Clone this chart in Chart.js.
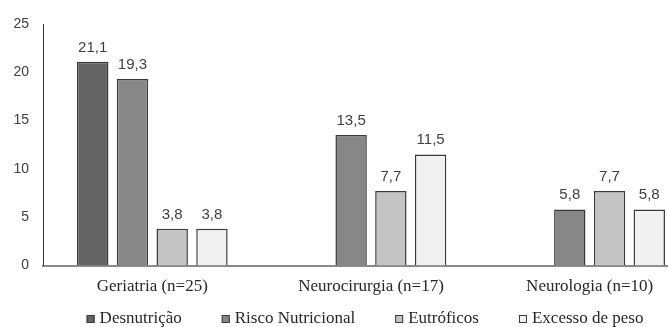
<!DOCTYPE html>
<html>
<head>
<meta charset="utf-8">
<script src="https://cdn.jsdelivr.net/npm/chart.js@4/dist/chart.umd.min.js"></script>
<style>
  html, body { margin: 0; padding: 0; background: #fff; overflow: hidden; }
  #wrap { width: 728px; height: 327px; }
</style>
</head>
<body>
<div id="wrap"><canvas id="nutriChart" width="728" height="327"></canvas></div>
<script>
// data (values in %)
const categories = ['Geriatria (n=25)', 'Neurocirurgia (n=17)', 'Neurologia (n=10)'];
const desnutricao = [21.1, null, null];
const riscoNutricional = [19.3, 13.5, 5.8];
const eutroficos = [3.8, 7.7, 7.7];
const excessoPeso = [3.8, 11.5, 5.8];
const yMax = 25;
const yStep = 5;

const serif = '"Liberation Serif", "Times New Roman", serif';
const sans = '"Liberation Sans", Arial, sans-serif';

// numbers above the bars, decimal comma
const valueLabels = {
  id: 'valueLabels',
  afterDatasetsDraw(chart) {
    const ctx = chart.ctx;
    ctx.save();
    ctx.font = '15px ' + sans;
    ctx.fillStyle = '#404040';
    ctx.textAlign = 'center';
    ctx.textBaseline = 'alphabetic';
    chart.data.datasets.forEach((ds, i) => {
      chart.getDatasetMeta(i).data.forEach((bar, j) => {
        const v = ds.data[j];
        if (v == null) return;
        ctx.fillText(v.toFixed(1).replace('.', ','), bar.x, bar.y - 10);
      });
    });
    ctx.restore();
  }
};

// legend drawn by hand so the row can sit close under the axis labels
const bottomLegend = {
  id: 'bottomLegend',
  afterDraw(chart) {
    const ctx = chart.ctx;
    const box = 8, gap = 5, spacing = 40, yMid = 319;
    ctx.save();
    ctx.font = '17px ' + serif;
    const items = chart.data.datasets.map(ds => ({ ds, w: ctx.measureText(ds.label).width }));
    const total = items.reduce((s, it) => s + box + gap + it.w, 0) + spacing * (items.length - 1);
    let x = (chart.chartArea.left + chart.chartArea.right) / 2 - 6 - total / 2;
    items.forEach(it => {
      ctx.fillStyle = it.ds.backgroundColor;
      ctx.strokeStyle = it.ds.borderColor;
      ctx.lineWidth = 1;
      ctx.fillRect(x, yMid - box / 2, box, box);
      ctx.strokeRect(x + 0.5, yMid - box / 2 + 0.5, box - 1, box - 1);
      ctx.fillStyle = '#262626';
      ctx.textAlign = 'left';
      ctx.textBaseline = 'middle';
      ctx.fillText(it.ds.label, x + box + gap, yMid);
      x += box + gap + it.w + spacing;
    });
    ctx.restore();
  }
};

const barStyle = { borderColor: '#3a3a3a', borderWidth: 1.5, categoryPercentage: 0.727, barPercentage: 0.79 };

const nutriChart = new Chart(document.getElementById('nutriChart'), {
  type: 'bar',
  data: {
    labels: categories,
    datasets: [
      { label: 'Desnutrição', data: desnutricao, backgroundColor: '#646464', ...barStyle },
      { label: 'Risco Nutricional', data: riscoNutricional, backgroundColor: '#878787', ...barStyle },
      { label: 'Eutróficos', data: eutroficos, backgroundColor: '#c4c4c4', ...barStyle },
      { label: 'Excesso de peso', data: excessoPeso, backgroundColor: '#f1f1f1', ...barStyle }
    ]
  },
  options: {
    responsive: false,
    animation: false,
    layout: { padding: { top: 24, right: 29, bottom: 0, left: 0 } },
    plugins: {
      tooltip: { enabled: false },
      legend: { display: false }
    },
    scales: {
      x: {
        grid: { display: false, drawTicks: false },
        border: { display: true, color: '#8a8a8a', width: 2 },
        ticks: { color: '#262626', padding: 11, font: { family: serif, size: 17 } },
        afterFit(scale) { scale.height = 61.5; }
      },
      y: {
        min: 0,
        max: yMax,
        grid: { display: false, drawTicks: false },
        border: { display: true, color: '#333333', width: 1 },
        ticks: { stepSize: yStep, color: '#404040', padding: 14, font: { family: sans, size: 14 } },
        afterFit(scale) { scale.width = 43; }
      }
    }
  },
  plugins: [valueLabels, bottomLegend]
});
</script>
</body>
</html>
